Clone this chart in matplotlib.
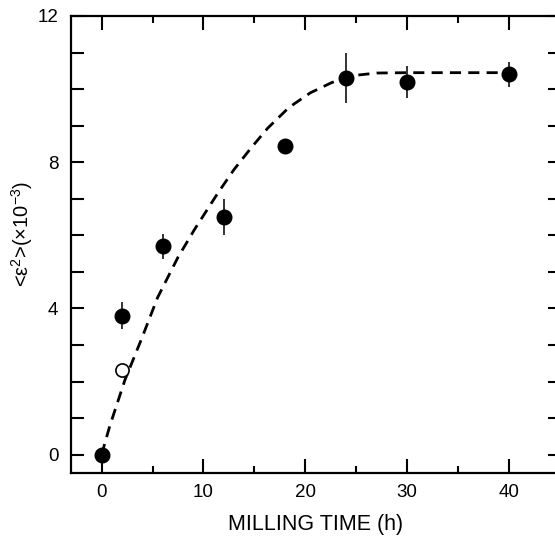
import matplotlib
matplotlib.use("Agg")
import matplotlib.pyplot as plt
from matplotlib.ticker import MultipleLocator

plt.rcParams["font.family"] = ["Liberation Sans", "DejaVu Sans"]
plt.rcParams["mathtext.default"] = "regular"

# measured points (filled)
milling_time = [0, 2, 6, 12, 18, 24, 30, 40]
strain = [0.0, 3.8, 5.7, 6.5, 8.45, 10.3, 10.2, 10.4]
strain_err = [0.15, 0.37, 0.35, 0.5, 0.18, 0.68, 0.43, 0.34]

# open point
open_time = [2]
open_strain = [2.33]

# dashed guide curve
curve_time = [0, 0.8, 2.3, 3.9, 5.5, 7.5, 9.1, 11.4, 13.0, 14.7, 16.3,
              18.4, 20.5, 22.6, 25.0, 27.0, 30.0, 35.0, 40.0]
curve_strain = [0, 0.78, 2.05, 3.15, 4.3, 5.4, 6.15, 7.15, 7.8, 8.4, 8.93,
                9.5, 9.9, 10.18, 10.38, 10.44, 10.45, 10.45, 10.45]

fig = plt.figure(figsize=(5.55, 5.36), dpi=100)
ax = fig.add_axes([71 / 555, 63 / 536, 489 / 555, 457 / 536])

ax.plot(curve_time, curve_strain, color="black", lw=2, dashes=(4, 2.6), zorder=2)
ax.errorbar(milling_time, strain, yerr=strain_err, fmt="o", color="black",
            ecolor="#333333", elinewidth=1.4, capsize=0, markersize=10.5, zorder=3)
ax.plot(open_time, open_strain, "o", mfc="white", mec="black", mew=1.2,
        markersize=9.5, zorder=3)

ax.set_xlim(-3, 45)
ax.set_ylim(-0.5, 12)
ax.xaxis.set_major_locator(MultipleLocator(10))
ax.xaxis.set_minor_locator(MultipleLocator(5))
ax.yaxis.set_major_locator(MultipleLocator(4))
ax.yaxis.set_minor_locator(MultipleLocator(1))

ax.tick_params(which="both", direction="in", top=True, right=True,
               width=1.5, labelsize=13.5)
ax.tick_params(axis="x", which="major", length=10, pad=8)
ax.tick_params(axis="x", which="minor", length=5)
ax.tick_params(axis="y", which="both", length=9, pad=9)
for s in ax.spines.values():
    s.set_linewidth(1.6)

ax.set_xlabel("MILLING TIME (h)", fontsize=15.5, labelpad=9)
ax.set_ylabel("<ε$^2$>(×10$^{-3}$)", fontsize=14.5)
ax.yaxis.set_label_coords(-0.074, 0.523)

fig.savefig("out.png", dpi=100)
